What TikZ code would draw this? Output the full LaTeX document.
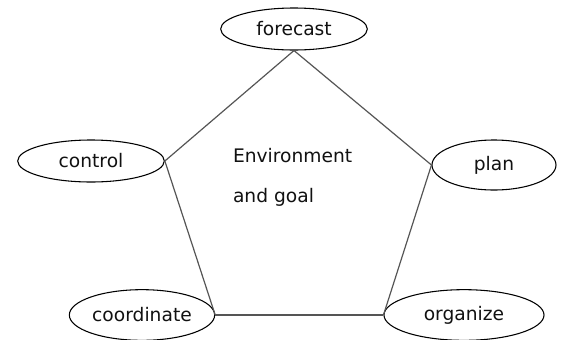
\documentclass[tikz,border=0pt]{standalone}
\usepackage{fontspec}
\setmainfont{DejaVu Sans}
\usepackage{tikz}
\usepackage{xcolor}
\usetikzlibrary{shapes.geometric}
\definecolor{FontColor}{HTML}{111111}
\definecolor{EdgeColor}{HTML}{555555}
\newcommand\nodefc{forecast}
\newcommand\nodepl{plan}
\newcommand\nodeorg{organize}
\newcommand\nodecoo{coordinate}
\newcommand\nodectl{control}
\tikzstyle{mynodestyle} = [ellipse, inner sep=0pt, text=FontColor, font=\fontsize{14}{16}\selectfont]
\tikzstyle{en} = [mynodestyle, draw=black, line width=0.8pt]
\tikzset{every picture/.style={line width=0.9pt}}

\begin{document}
\begin{tikzpicture}[x=0.75pt, y=-0.75pt]
\useasboundingbox (0, 0) rectangle (562, 340);
\node[en, minimum width=110pt, minimum height=31.5pt] (fc) at (294, 29) {\nodefc};
\node[en, minimum width=110pt, minimum height=31.5pt] (ctl) at (91, 161) {\nodectl};
\node[en, minimum width=93pt, minimum height=37.5pt] (pl) at (494, 165) {\nodepl};
\node[en, minimum width=109pt, minimum height=38pt] (coo) at (142, 315) {\nodecoo};
\node[en, minimum width=120pt, minimum height=38pt] (org) at (464, 315) {\nodeorg};
\node[text=FontColor, align=left, anchor=west, font=\fontsize{14}{30}\selectfont] (env) at (228, 177) {Environment\\and goal};
\draw [EdgeColor] (fc.south) -- (pl.west);
\draw [EdgeColor] (pl.west) -- (org.west);
\draw [EdgeColor] (org.west) -- (coo.east);
\draw [EdgeColor] (coo.east) -- (ctl.east);
\draw [EdgeColor] (ctl.east) -- (fc.south);
\end{tikzpicture}
\end{document}
